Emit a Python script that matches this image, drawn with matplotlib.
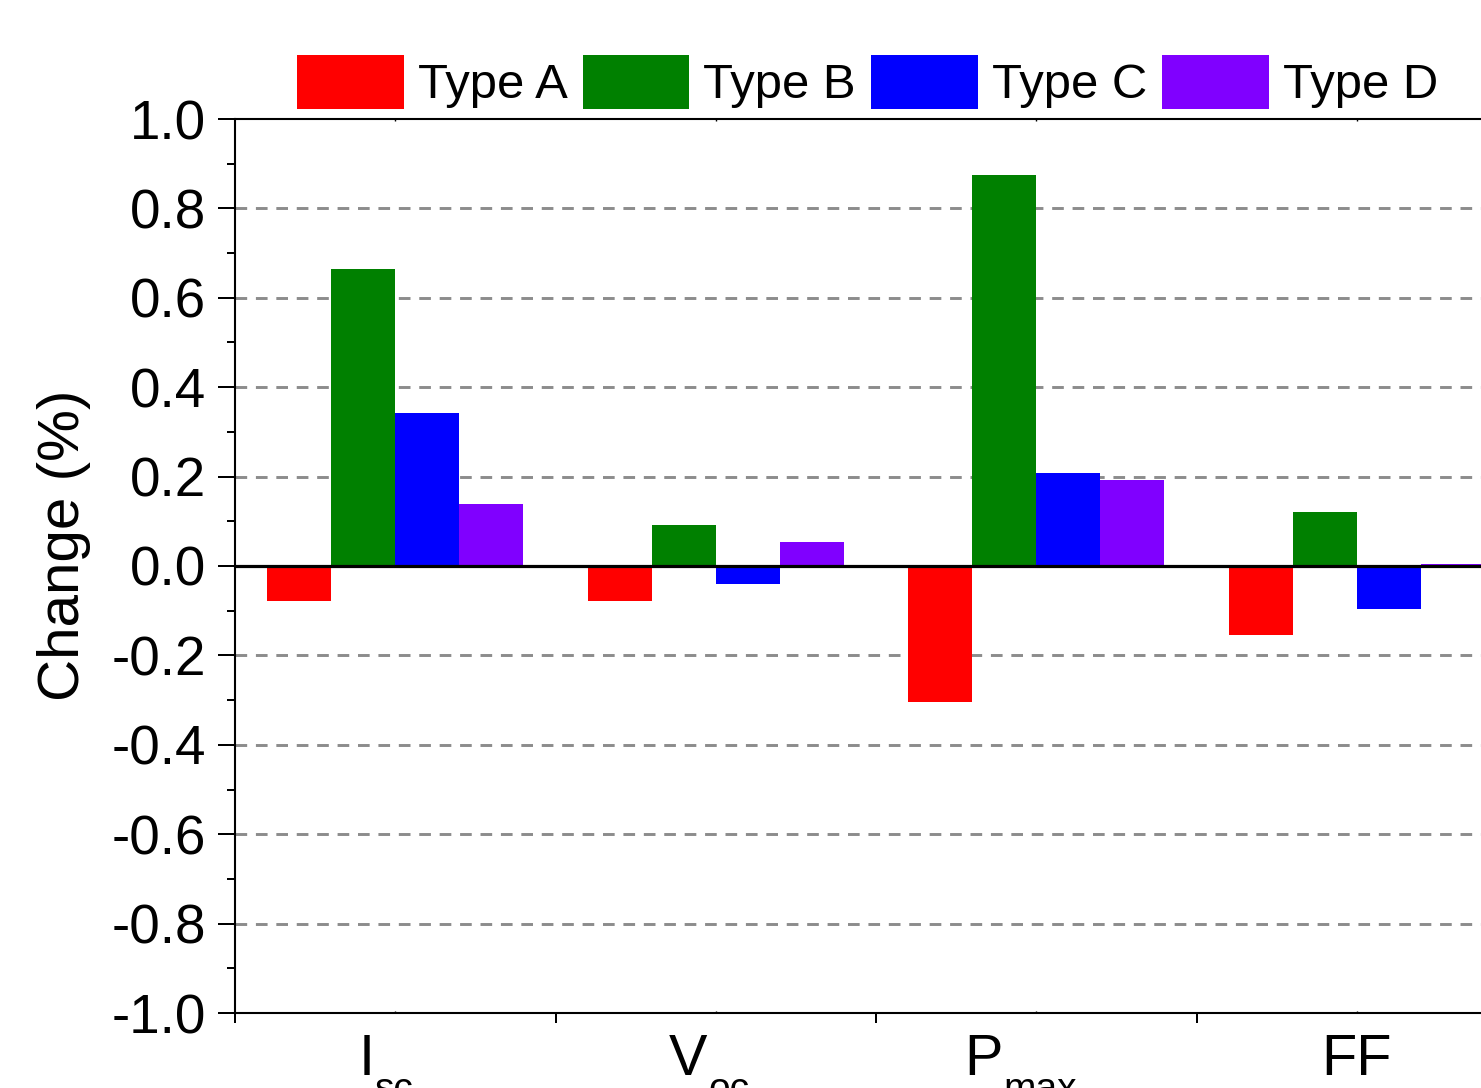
import matplotlib
matplotlib.use("Agg")
import matplotlib.pyplot as plt
import numpy as np

categories = ["I", "V", "P", "FF"]
subscripts = ["sc", "oc", "max", ""]
series_names = ["Type A", "Type B", "Type C", "Type D"]
type_a = [-0.078, -0.078, -0.304, -0.154]
type_b = [0.664, 0.092, 0.875, 0.121]
type_c = [0.342, -0.040, 0.208, -0.096]
type_d = [0.139, 0.054, 0.192, 0.005]
colors = ["#ff0000", "#008000", "#0000ff", "#8000ff"]
yticks = [-1.0, -0.8, -0.6, -0.4, -0.2, 0.0, 0.2, 0.4, 0.6, 0.8, 1.0]

plt.rcParams['font.family'] = ['Liberation Sans', 'DejaVu Sans']

W, H = 1481, 1088
fig = plt.figure(figsize=(W / 100, H / 100), dpi=100)
ax = fig.add_axes([235 / W, 75 / H, 1282 / W, 894 / H])

centers = np.arange(len(categories)) + 0.5
w = 0.2
data = [type_a, type_b, type_c, type_d]
offsets = [-0.3, -0.1, 0.1, 0.3]
handles = []
for vals, off, c, name in zip(data, offsets, colors, series_names):
    h = ax.bar(centers + off, vals, width=w, color=c, label=name, zorder=3)
    handles.append(h)

ax.set_xlim(0, 4)
ax.set_ylim(-1.0, 1.0)
ax.set_yticks(yticks)
ax.set_yticklabels([f"{t:.1f}" for t in yticks])
ax.set_yticks(np.arange(-0.9, 1.0, 0.2), minor=True)
for t in yticks[1:-1]:
    if abs(t) < 1e-9:
        continue
    ax.axhline(t, color="#8c8c8c", linestyle=(0, (4, 3)), linewidth=2.1, zorder=1)
ax.axhline(0, color="black", linewidth=2.3, zorder=4)

ax.set_xticks([0, 1, 2, 3, 4])
ax.set_xticklabels([])
ax.set_xticks(centers, minor=True)
ax.tick_params(axis='x', which='major', direction='out', length=7.2, width=1.44)
ax.tick_params(axis='x', which='minor', direction='in', length=1.5, width=1.0, top=True)
ax.tick_params(axis='y', which='major', direction='out', length=12.2, width=1.44,
               labelsize=39.5, pad=8.5)
ax.tick_params(axis='y', which='minor', direction='out', length=5.8, width=1.44)

for s in ax.spines.values():
    s.set_linewidth(1.5)

# category labels with lowered subscripts (cut by the figure edge as in the original)
label_dx = [-29, -28, -53, 0]
for cx, main, sub, dx in zip(centers, categories, subscripts, label_dx):
    t = ax.annotate(main, xy=(cx, 0), xycoords=('data', 'axes fraction'),
                    xytext=(dx, -62), textcoords='offset pixels',
                    ha='center', va='baseline', fontsize=41.5, annotation_clip=False)
    if sub:
        ax.annotate(sub, xy=(1, 0), xycoords=(t, 'axes fraction'),
                    xytext=(1, -87), textcoords='offset pixels',
                    ha='left', va='baseline', fontsize=28, annotation_clip=False)

ax.set_ylabel("Change (%)", fontsize=42)
ax.yaxis.set_label_coords(-0.1123, 0.5235)

fig.legend(handles=handles, labels=series_names, loc='upper left',
           bbox_to_anchor=(297 / W, 1 - 55 / H), ncol=4, frameon=False,
           fontsize=35.3, handlelength=2.18, handleheight=1.32, borderpad=0,
           handletextpad=0.28, columnspacing=0.31, borderaxespad=0)

fig.savefig("out.png", dpi=100)
